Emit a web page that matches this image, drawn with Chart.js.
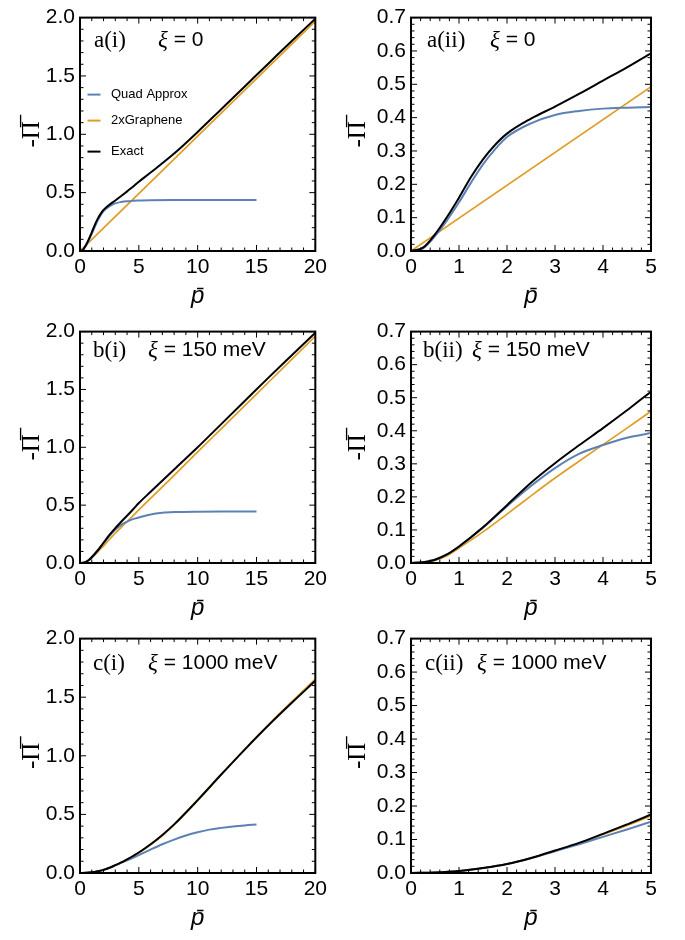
<!DOCTYPE html>
<html>
<head>
<meta charset="utf-8">
<script src="https://cdn.jsdelivr.net/npm/chart.js@4.4.0/dist/chart.umd.min.js"></script>
<style>
    body { margin: 0; background: #fff; width: 685px; height: 940px; position: relative; overflow: hidden; }
    canvas { position: absolute; }
</style>
</head>
<body>
<canvas id="chartAi" width="331" height="311" style="left:0;top:0"></canvas>
<canvas id="chartAii" width="330" height="311" style="left:335px;top:0"></canvas>
<canvas id="chartBi" width="331" height="309" style="left:0;top:314px"></canvas>
<canvas id="chartBii" width="330" height="309" style="left:335px;top:314px"></canvas>
<canvas id="chartCi" width="331" height="312" style="left:0;top:621px"></canvas>
<canvas id="chartCii" width="330" height="312" style="left:335px;top:621px"></canvas>
<script>
// xi = 0
const pA = [0, 0.25, 0.5, 0.75, 1, 1.25, 1.5, 1.75, 2, 2.5, 3, 3.5, 4, 4.5, 5, 6, 8, 10, 12, 14, 16, 18, 20];
const exactA = [0, 0.01, 0.05, 0.102, 0.16, 0.222, 0.275, 0.318, 0.352, 0.397, 0.433, 0.471, 0.511, 0.551, 0.593, 0.672, 0.835, 1.02, 1.215, 1.41, 1.605, 1.80, 1.99];
const pQuadA = [0, 0.25, 0.5, 0.75, 1, 1.25, 1.5, 1.75, 2, 2.5, 3, 3.5, 4, 4.5, 5, 6, 8, 10, 12, 15];
const quadA = [0, 0.008, 0.045, 0.092, 0.146, 0.205, 0.26, 0.305, 0.342, 0.383, 0.408, 0.42, 0.427, 0.43, 0.432, 0.434, 0.436, 0.437, 0.437, 0.437];
const pGrapheneA = [0, 20];
const grapheneA = [0, 1.97];

// xi = 150 meV
const pB = [0, 0.25, 0.5, 0.75, 1, 1.5, 2, 2.5, 3, 3.5, 4, 4.5, 5, 6, 8, 10, 12, 14, 16, 18, 20];
const exactB = [0, 0.002, 0.01, 0.026, 0.05, 0.108, 0.175, 0.243, 0.302, 0.356, 0.408, 0.462, 0.518, 0.615, 0.808, 1.0, 1.2, 1.40, 1.60, 1.795, 1.99];
const grapheneB = [0, 0.002, 0.008, 0.022, 0.045, 0.094, 0.148, 0.203, 0.257, 0.308, 0.358, 0.408, 0.459, 0.558, 0.758, 0.96, 1.16, 1.36, 1.56, 1.76, 1.96];
const pQuadB = [0, 0.25, 0.5, 0.75, 1, 1.5, 2, 2.5, 3, 3.5, 4, 4.5, 5, 6, 7, 8, 10, 12, 15];
const quadB = [0, 0.002, 0.01, 0.026, 0.05, 0.107, 0.172, 0.233, 0.287, 0.33, 0.357, 0.379, 0.393, 0.42, 0.434, 0.44, 0.444, 0.445, 0.445];

// xi = 1000 meV
const pC = [0, 0.5, 1, 1.5, 2, 2.5, 3, 3.5, 4, 4.5, 5, 6, 7, 8, 10, 12, 14, 16, 18, 20];
const exactC = [0, 0.0015, 0.006, 0.015, 0.027, 0.045, 0.067, 0.09, 0.117, 0.145, 0.175, 0.245, 0.325, 0.415, 0.622, 0.84, 1.053, 1.258, 1.452, 1.64];
const grapheneC = [0, 0.0015, 0.006, 0.015, 0.027, 0.044, 0.066, 0.089, 0.115, 0.142, 0.171, 0.24, 0.32, 0.41, 0.618, 0.838, 1.055, 1.263, 1.462, 1.655];
const pQuadC = [0, 0.5, 1, 1.5, 2, 2.5, 3, 3.5, 4, 4.5, 5, 6, 7, 8, 9, 10, 11, 12, 13, 14, 15];
const quadC = [0, 0.0015, 0.006, 0.015, 0.027, 0.044, 0.065, 0.086, 0.108, 0.13, 0.153, 0.2, 0.245, 0.285, 0.32, 0.348, 0.37, 0.385, 0.397, 0.406, 0.413];

const blue = '#5e81b5';
const orange = '#e19c24';
const black = '#000000';

function pts(xs, ys) {
    return xs.map((x, i) => ({ x: x, y: ys[i] }));
}

// frame with inward ticks on all four sides
const framePlugin = {
    id: 'frame',
    afterDatasetsDraw(chart, args, o) {
        const ctx = chart.ctx;
        const a = chart.chartArea;
        const x = chart.scales.x;
        const y = chart.scales.y;
        ctx.save();
        ctx.strokeStyle = '#000';
        ctx.lineWidth = 1;
        const nx = Math.round((x.max - x.min) / o.xMinor);
        for (let i = 0; i <= nx; i++) {
            const v = x.min + i * o.xMinor;
            const major = Math.abs(v / o.xMajor - Math.round(v / o.xMajor)) < 1e-6;
            const len = major ? 6 : 3.5;
            const px = x.getPixelForValue(v);
            ctx.beginPath();
            ctx.moveTo(px, a.bottom); ctx.lineTo(px, a.bottom - len);
            ctx.moveTo(px, a.top); ctx.lineTo(px, a.top + len);
            ctx.stroke();
        }
        const ny = Math.round((y.max - y.min) / o.yMinor);
        for (let i = 0; i <= ny; i++) {
            const v = y.min + i * o.yMinor;
            const major = Math.abs(v / o.yMajor - Math.round(v / o.yMajor)) < 1e-6;
            const len = major ? 6 : 3.5;
            const py = y.getPixelForValue(v);
            ctx.beginPath();
            ctx.moveTo(a.left, py); ctx.lineTo(a.left + len, py);
            ctx.moveTo(a.right, py); ctx.lineTo(a.right - len, py);
            ctx.stroke();
        }
        ctx.lineWidth = 2;
        ctx.strokeRect(a.left, a.top, a.right - a.left, a.bottom - a.top);
        ctx.restore();
    }
};

// panel tag and xi value
const tagPlugin = {
    id: 'tag',
    afterDraw(chart, args, o) {
        const ctx = chart.ctx;
        const a = chart.chartArea;
        ctx.save();
        ctx.fillStyle = '#000';
        ctx.textBaseline = 'middle';
        ctx.textAlign = 'left';
        ctx.font = '23px "Liberation Serif"';
        ctx.fillText(o.tag, a.left + o.tagX, a.top + o.dy);
        ctx.font = 'italic 23px "Liberation Serif"';
        ctx.fillText('ξ', a.left + o.xiX, a.top + o.dy);
        const w = ctx.measureText('ξ').width;
        ctx.font = '21px "Liberation Sans"';
        ctx.fillText(' = ' + o.xi, a.left + o.xiX + w, a.top + o.dy);
        ctx.restore();
    }
};

// legend drawn inside the plot of a(i)
const insideLegend = {
    id: 'insideLegend',
    afterDraw(chart, args, o) {
        const ctx = chart.ctx;
        const a = chart.chartArea;
        ctx.save();
        ctx.font = '13px "Liberation Sans"';
        ctx.textBaseline = 'middle';
        ctx.fillStyle = '#000';
        chart.data.datasets.forEach((ds, i) => {
            const yy = a.top + o.rows[i];
            ctx.strokeStyle = ds.borderColor;
            ctx.lineWidth = 2;
            ctx.beginPath();
            ctx.moveTo(a.left + 7.5, yy);
            ctx.lineTo(a.left + 20.5, yy);
            ctx.stroke();
            ctx.fillText(ds.label, a.left + 31, yy);
        });
        ctx.restore();
    }
};

const tickFont = { family: '"Liberation Sans"', size: 21 };

function makePanel(id, c) {
    const plugins = [framePlugin, tagPlugin];
    if (c.legend) plugins.push(insideLegend);
    return new Chart(document.getElementById(id), {
        type: 'line',
        data: {
            datasets: [{
                label: 'Quad Approx',
                data: pts(c.pQuad, c.quad),
                borderColor: blue,
                borderWidth: 2,
                order: 1
            }, {
                label: '2xGraphene',
                data: pts(c.pGraphene, c.graphene),
                borderColor: orange,
                borderWidth: 1.7,
                order: 2
            }, {
                label: 'Exact',
                data: pts(c.pExact, c.exact),
                borderColor: black,
                borderWidth: 2,
                order: 0
            }]
        },
        options: {
            responsive: false,
            animation: false,
            layout: { padding: { top: 14, right: 14, left: 0, bottom: 0 } },
            elements: {
                point: { radius: 0 },
                line: { cubicInterpolationMode: 'monotone', fill: false }
            },
            plugins: {
                legend: { display: false },
                tooltip: { enabled: false },
                frame: { xMajor: c.xStep, xMinor: c.xMinor, yMajor: c.yStep, yMinor: c.yMinor },
                tag: { tag: c.tag, xi: c.xi, tagX: c.tagX, xiX: c.xiX, dy: c.dy },
                insideLegend: { rows: [77, 103, 134] }
            },
            scales: {
                x: {
                    type: 'linear',
                    min: 0,
                    max: c.xMax,
                    grid: { display: false, drawTicks: false },
                    border: { display: false },
                    ticks: { stepSize: c.xStep, autoSkip: false, maxRotation: 0, padding: 4, color: '#000', font: tickFont },
                    title: {
                        display: true,
                        text: 'p\u0304',
                        color: '#000',
                        font: { family: '"Liberation Sans"', size: 24, style: 'italic' },
                        padding: { top: 0, bottom: 0 }
                    },
                    afterFit: s => { s.height = 60; }
                },
                y: {
                    min: 0,
                    max: c.yMax,
                    grid: { display: false, drawTicks: false },
                    border: { display: false },
                    ticks: {
                        stepSize: c.yStep,
                        autoSkip: false,
                        padding: 5,
                        color: '#000',
                        font: tickFont,
                        callback: v => v.toFixed(1)
                    },
                    title: {
                        display: true,
                        text: '-\u03A0\u0305',
                        color: '#000',
                        font: { family: '"Liberation Serif"', size: 25 },
                        padding: { top: c.titlePad, bottom: 0 }
                    },
                    afterFit: s => { s.width = c.yWidth; }
                }
            }
        },
        plugins: plugins
    });
}

const wide = { xMax: 20, xStep: 5, xMinor: 1, yMax: 2, yStep: 0.5, yMinor: 0.1, yWidth: 80, titlePad: 17 };
const narrow = { xMax: 5, xStep: 1, xMinor: 0.2, yMax: 0.7, yStep: 0.1, yMinor: 0.02, yWidth: 76, titlePad: 8 };

const setA = { pExact: pA, exact: exactA, pQuad: pQuadA, quad: quadA, pGraphene: pGrapheneA, graphene: grapheneA };
const setB = { pExact: pB, exact: exactB, pQuad: pQuadB, quad: quadB, pGraphene: pB, graphene: grapheneB };
const setC = { pExact: pC, exact: exactC, pQuad: pQuadC, quad: quadC, pGraphene: pC, graphene: grapheneC };

makePanel('chartAi', Object.assign({}, wide, setA, { tag: 'a(i)', xi: '0', tagX: 14, xiX: 78, dy: 23, legend: true }));
makePanel('chartAii', Object.assign({}, narrow, setA, { tag: 'a(ii)', xi: '0', tagX: 16, xiX: 79, dy: 23 }));
makePanel('chartBi', Object.assign({}, wide, setB, { tag: 'b(i)', xi: '150 meV', tagX: 13, xiX: 68, dy: 19 }));
makePanel('chartBii', Object.assign({}, narrow, setB, { tag: 'b(ii)', xi: '150 meV', tagX: 12, xiX: 61, dy: 19 }));
makePanel('chartCi', Object.assign({}, wide, setC, { tag: 'c(i)', xi: '1000 meV', tagX: 13, xiX: 68, dy: 25 }));
makePanel('chartCii', Object.assign({}, narrow, setC, { tag: 'c(ii)', xi: '1000 meV', tagX: 14, xiX: 66, dy: 25 }));
</script>
</body>
</html>
